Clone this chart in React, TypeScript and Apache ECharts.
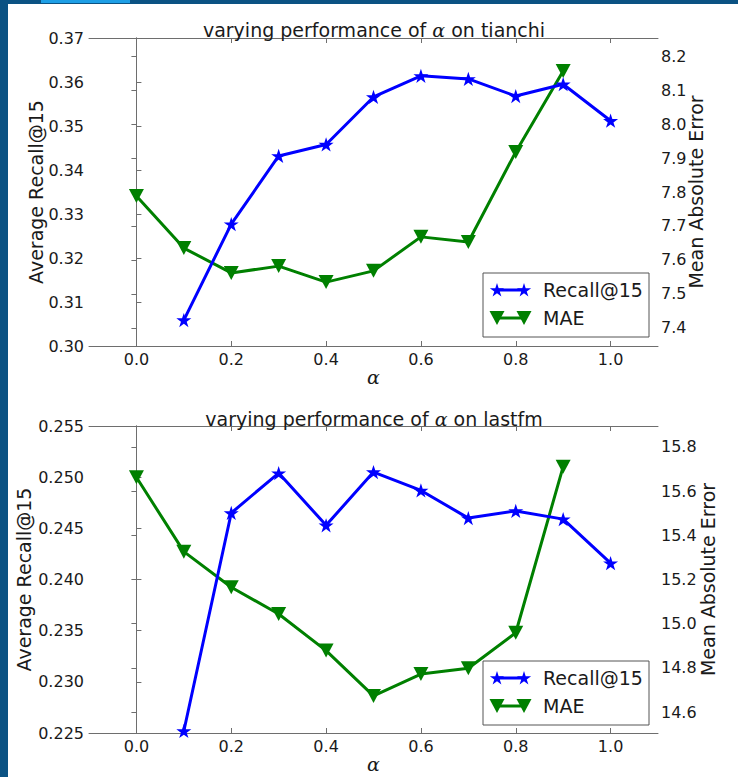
import React, { useEffect, useRef } from "react";
import * as echarts from "echarts";

// ---- data ----
const recallAlphas = [0.1, 0.2, 0.3, 0.4, 0.5, 0.6, 0.7, 0.8, 0.9, 1.0];
const maeAlphas = [0.0, 0.1, 0.2, 0.3, 0.4, 0.5, 0.6, 0.7, 0.8, 0.9];

const tianchiRecall = [0.3059, 0.3277, 0.3432, 0.3458, 0.3566, 0.3614, 0.3607, 0.3568, 0.3595, 0.3512];
const tianchiMAE = [7.788, 7.635, 7.562, 7.582, 7.535, 7.568, 7.668, 7.653, 7.918, 8.156];

const lastfmRecall = [0.2252, 0.2465, 0.2504, 0.2453, 0.2505, 0.2487, 0.246, 0.2467, 0.2459, 0.2416];
const lastfmMAE = [15.663, 15.326, 15.165, 15.044, 14.878, 14.673, 14.772, 14.798, 14.959, 15.711];

const xTicks = [0.0, 0.2, 0.4, 0.6, 0.8, 1.0];
const tianchiRecallTicks = [0.3, 0.31, 0.32, 0.33, 0.34, 0.35, 0.36, 0.37];
const tianchiMAETicks = [7.4, 7.5, 7.6, 7.7, 7.8, 7.9, 8.0, 8.1, 8.2];
const lastfmRecallTicks = [0.225, 0.23, 0.235, 0.24, 0.245, 0.25, 0.255];
const lastfmMAETicks = [14.6, 14.8, 15.0, 15.2, 15.4, 15.6, 15.8];

const titles = ["varying performance of ", " on tianchi", " on lastfm"];
const seriesNames = ["Recall@15", "MAE"];
const axisNames = ["Average Recall@15", "Mean Absolute Error", "α"];

// ---- styles ----
const FONT = "DejaVu Sans";
const TEXT = "#1a1a1a";
const AXIS = "#6e6e6e";
const BLUE = "#0000ff";
const GREEN = "#008000";
const STAR_PATH =
  "path://M0,-100 L22.45,-30.9 L95.11,-30.9 L36.33,11.8 L58.78,80.9 L0,38.2 L-58.78,80.9 L-36.33,11.8 L-95.11,-30.9 L-22.45,-30.9 Z";
const STAR_PTS = [
  [0, -1], [0.2245, -0.309], [0.9511, -0.309], [0.3633, 0.118], [0.5878, 0.809],
  [0, 0.382], [-0.5878, 0.809], [-0.3633, 0.118], [-0.9511, -0.309], [-0.2245, -0.309],
];

function starPoints(cx: number, cy: number, r: number) {
  return STAR_PTS.map(([x, y]) => [cx + x * r, cy + y * r]);
}
function triPoints(cx: number, cy: number, w: number, h: number) {
  return [[cx - w / 2, cy - h / 2], [cx + w / 2, cy - h / 2], [cx, cy + h / 2]];
}

function legendGraphic(x: number, y: number) {
  const w = 166, h = 64;
  const y1 = y + 17, y2 = y + 45;
  const lx1 = x + 14, lx2 = x + 41;
  return [
    { type: "rect", z: 100, shape: { x, y, width: w, height: h }, style: { fill: "#fff", stroke: "#555", lineWidth: 1 } },
    { type: "line", z: 101, shape: { x1: lx1, y1, x2: lx2, y2: y1 }, style: { stroke: BLUE, lineWidth: 3 } },
    { type: "polygon", z: 102, shape: { points: starPoints(lx1, y1 + 0.5, 7.5) }, style: { fill: BLUE } },
    { type: "polygon", z: 102, shape: { points: starPoints(lx2, y1 + 0.5, 7.5) }, style: { fill: BLUE } },
    { type: "line", z: 101, shape: { x1: lx1, y1: y2, x2: lx2, y2 }, style: { stroke: GREEN, lineWidth: 3 } },
    { type: "polygon", z: 102, shape: { points: triPoints(lx1, y2, 15, 14) }, style: { fill: GREEN } },
    { type: "polygon", z: 102, shape: { points: triPoints(lx2, y2, 15, 14) }, style: { fill: GREEN } },
    { type: "text", z: 102, x: x + 60, y: y1, style: { text: seriesNames[0], fontFamily: FONT, fontSize: 19, fill: TEXT, verticalAlign: "middle" } },
    { type: "text", z: 102, x: x + 60, y: y2, style: { text: seriesNames[1], fontFamily: FONT, fontSize: 19, fill: TEXT, verticalAlign: "middle" } },
  ];
}

function titleGraphic(y: number, suffix: string) {
  return {
    type: "text",
    z: 50,
    x: 374,
    y,
    style: {
      text: `{n|${titles[0]}}{a|α}{n|${suffix}}`,
      align: "center",
      verticalAlign: "middle",
      rich: {
        n: { fontFamily: FONT, fontSize: 19, fill: TEXT, color: TEXT },
        a: { fontFamily: "DejaVu Serif", fontStyle: "italic", fontSize: 19, fill: TEXT, color: TEXT },
      },
    },
  };
}

const tickStyle = { show: true, inside: true, length: 5, lineStyle: { color: AXIS, width: 1 } };
const lineAxis = { show: true, lineStyle: { color: AXIS, width: 1 } };
const labelBase = { fontFamily: FONT, fontSize: 16, color: TEXT };

function xBottom(gridIndex: number) {
  return {
    type: "value", gridIndex, position: "bottom", min: -0.1, max: 1.1,
    name: axisNames[2], nameLocation: "middle", nameGap: 21, nameMoveOverlap: false,
    nameTextStyle: { fontFamily: "DejaVu Serif", fontStyle: "italic", fontSize: 19, color: TEXT },
    axisLine: lineAxis,
    axisTick: { ...tickStyle, customValues: xTicks },
    axisLabel: { ...labelBase, margin: 5, customValues: xTicks, formatter: (v: number) => v.toFixed(1) },
    splitLine: { show: false },
  };
}
function xTop(gridIndex: number) {
  return {
    type: "value", gridIndex, position: "top", min: -0.1, max: 1.1,
    axisLine: lineAxis,
    axisTick: { ...tickStyle, customValues: xTicks },
    axisLabel: { show: false },
    splitLine: { show: false },
  };
}
function yAxis(gridIndex: number, position: string, min: number, max: number, ticks: number[], digits: number, name: string, gap: number, margin: number) {
  return {
    type: "value", gridIndex, position, min, max,
    name, nameLocation: "middle", nameGap: gap, nameRotate: 90, nameMoveOverlap: false,
    nameTextStyle: { fontFamily: FONT, fontSize: 19, color: TEXT },
    axisLine: lineAxis,
    axisTick: { ...tickStyle, customValues: ticks },
    axisLabel: { ...labelBase, margin, customValues: ticks, formatter: (v: number) => v.toFixed(digits) },
    splitLine: { show: false },
  };
}

function lineSeries(name: string, xs: number[], ys: number[], xi: number, yi: number, color: string, isStar: boolean) {
  return {
    type: "line", name, xAxisIndex: xi, yAxisIndex: yi,
    data: xs.map((x, i) => [x, ys[i]]),
    symbol: isStar ? STAR_PATH : "triangle",
    symbolRotate: isStar ? 0 : 180,
    symbolKeepAspect: true,
    symbolSize: isStar ? 15 : [15, 14],
    showAllSymbol: true,
    itemStyle: { color, opacity: 1 },
    lineStyle: { color, width: 3 },
    z: isStar ? 3 : 2,
  };
}

export default function App() {
  const ref = useRef<HTMLDivElement>(null);
  useEffect(() => {
    document.body.style.margin = "0";
    const chart = echarts.init(ref.current!, null, { renderer: "svg" });
    chart.setOption({
      animation: false,
      backgroundColor: "#ffffff",
      grid: [
        { left: 89, top: 38, width: 569, height: 308, show: false },
        { left: 89, top: 426, width: 569, height: 307, show: false },
      ],
      xAxis: [xBottom(0), xTop(0), xBottom(1), xTop(1)],
      yAxis: [
        yAxis(0, "left", 0.3, 0.37, tianchiRecallTicks, 2, axisNames[0], 44, 5),
        yAxis(0, "right", 7.347, 8.253, tianchiMAETicks, 1, axisNames[1], 28, 3),
        yAxis(1, "left", 0.225, 0.255, lastfmRecallTicks, 3, axisNames[0], 56, 5),
        yAxis(1, "right", 14.505, 15.895, lastfmMAETicks, 1, axisNames[1], 40, 3),
      ],
      series: [
        lineSeries(seriesNames[0], recallAlphas, tianchiRecall, 0, 0, BLUE, true),
        lineSeries(seriesNames[1], maeAlphas, tianchiMAE, 0, 1, GREEN, false),
        lineSeries(seriesNames[0], recallAlphas, lastfmRecall, 2, 2, BLUE, true),
        lineSeries(seriesNames[1], maeAlphas, lastfmMAE, 2, 3, GREEN, false),
      ],
      graphic: [
        { type: "rect", z: 200, shape: { x: 0, y: 0, width: 8, height: 777 }, style: { fill: "#0b5283" } },
        { type: "rect", z: 200, shape: { x: 0, y: 0, width: 738, height: 4 }, style: { fill: "#0b5283" } },
        { type: "rect", z: 201, shape: { x: 41, y: 0, width: 89, height: 3 }, style: { fill: "#1e9fe6" } },
        titleGraphic(29.5, titles[1]),
        titleGraphic(418.5, titles[2]),
        ...legendGraphic(483, 273),
        ...legendGraphic(483, 661),
      ],
    });
    return () => chart.dispose();
  }, []);
  return <div ref={ref} style={{ position: "fixed", left: 0, top: 0, width: 738, height: 777 }} />;
}
